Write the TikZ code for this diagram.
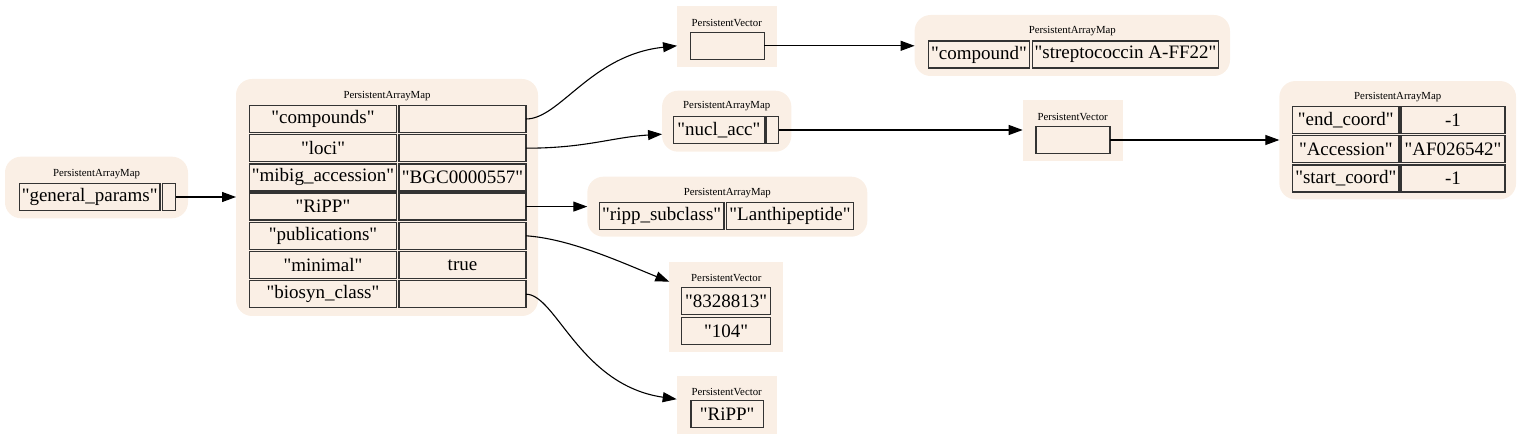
\documentclass[tikz,border=0pt]{standalone}
\usepackage{fontspec}
\setmainfont{Liberation Serif}[Ligatures=TeXOff]
\usepackage{tikz}
\usetikzlibrary{arrows.meta, positioning}
\definecolor{boxfill}{HTML}{FAEFE5}
\definecolor{cellline}{HTML}{333333}
\tikzset{
  map/.style={fill=boxfill, rounded corners=16pt, inner sep=0pt, outer sep=0pt},
  vec/.style={fill=boxfill, inner sep=0pt, outer sep=0pt},
  tag/.style={inner sep=0pt, font=\fontsize{10.8}{12}\selectfont},
  cell/.style={draw=cellline, line width=1.3pt, inner sep=0pt, outer sep=0pt,
    minimum height=27pt, font=\fontsize{19}{21}\selectfont},
  link/.style={-{Triangle[length=14pt,width=10pt]}, line width=1.1pt, black},
}

\begin{document}
\begin{tikzpicture}[x=1pt, y=-1pt]
  \useasboundingbox (0,0) rectangle (1523,443);

  \node[map, minimum width=183pt, minimum height=61.6pt] (root) at (96.5,187.5) {};
  \node[tag] (root-lbl) at (96.5,174.3) {PersistentArrayMap};
  \node[cell, minimum width=140.7pt] (root-k) at (89.7,197) {"general\_params"};
  \node[cell, minimum width=13pt] (root-v) at (169.2,197) {};

  \node[map, minimum width=302pt, minimum height=237pt] (main) at (387,197.5) {};
  \node[tag] (main-lbl) at (387,96) {PersistentArrayMap};
  \node[cell, minimum width=147.4pt] (main-k0) at (323,119) {"compounds"};
  \node[cell, minimum width=127pt] (main-v0) at (462.5,119) {};
  \node[cell, minimum width=147.4pt] (main-k1) at (323,148.2) {"loci"};
  \node[cell, minimum width=127pt] (main-v1) at (462.5,148.2) {};
  \node[cell, minimum width=147.4pt] (main-k2) at (323,177.4) {"mibig\_accession"};
  \node[cell, minimum width=127pt] (main-v2) at (462.5,177.4) {"BGC0000557"};
  \node[cell, minimum width=147.4pt] (main-k3) at (323,206.6) {"RiPP"};
  \node[cell, minimum width=127pt] (main-v3) at (462.5,206.6) {};
  \node[cell, minimum width=147.4pt] (main-k4) at (323,235.8) {"publications"};
  \node[cell, minimum width=127pt] (main-v4) at (462.5,235.8) {};
  \node[cell, minimum width=147.4pt] (main-k5) at (323,265) {"minimal"};
  \node[cell, minimum width=127pt] (main-v5) at (462.5,265) {true};
  \node[cell, minimum width=147.4pt] (main-k6) at (323,294.2) {"biosyn\_class"};
  \node[cell, minimum width=127pt] (main-v6) at (462.5,294.2) {};

  \node[vec, minimum width=99.5pt, minimum height=61pt] (vcomp) at (726.8,36.5) {};
  \node[tag] (vcomp-lbl) at (726.8,22.8) {PersistentVector};
  \node[cell, minimum width=74pt] (vcomp-0) at (727.3,45.8) {};

  \node[map, minimum width=315.4pt, minimum height=61pt] (mcomp) at (1072.3,45.5) {};
  \node[tag] (mcomp-lbl) at (1072.3,31.2) {PersistentArrayMap};
  \node[cell, minimum width=101pt] (mcomp-k) at (979,54.5) {"compound"};
  \node[cell, minimum width=186pt] (mcomp-v) at (1125.5,54.5) {"streptococcin A-FF22"};

  \node[map, minimum width=129.3pt, minimum height=61pt] (mnucl) at (726.7,121.2) {};
  \node[tag] (mnucl-lbl) at (726.7,106.5) {PersistentArrayMap};
  \node[cell, minimum width=91pt] (mnucl-k) at (718.9,130) {"nucl\_acc"};
  \node[cell, minimum width=12.7pt] (mnucl-v) at (772.3,130) {};

  \node[vec, minimum width=100pt, minimum height=61pt] (vnucl) at (1072.7,130.5) {};
  \node[tag] (vnucl-lbl) at (1072.7,117) {PersistentVector};
  \node[cell, minimum width=74pt] (vnucl-0) at (1073,140) {};

  \node[map, minimum width=236.7pt, minimum height=118.3pt] (mloc) at (1397.7,140.2) {};
  \node[tag] (mloc-lbl) at (1397.7,97.3) {PersistentArrayMap};
  \node[cell, minimum width=106.3pt] (mloc-k0) at (1345.8,120) {"end\_coord"};
  \node[cell, minimum width=104pt] (mloc-v0) at (1453,120) {-1};
  \node[cell, minimum width=106.3pt] (mloc-k1) at (1345.8,149.3) {"Accession"};
  \node[cell, minimum width=104pt] (mloc-v1) at (1453,149.3) {"AF026542"};
  \node[cell, minimum width=106.3pt] (mloc-k2) at (1345.8,178.6) {"start\_coord"};
  \node[cell, minimum width=104pt] (mloc-v2) at (1453,178.6) {-1};

  \node[map, minimum width=280pt, minimum height=60pt] (mripp) at (727.3,206.7) {};
  \node[tag] (mripp-lbl) at (727.3,193.3) {PersistentArrayMap};
  \node[cell, minimum width=124.7pt] (mripp-k) at (661.7,216.2) {"ripp\_subclass"};
  \node[cell, minimum width=126.7pt] (mripp-v) at (790,216.2) {"Lanthipeptide"};

  \node[vec, minimum width=114pt, minimum height=90pt] (vpub) at (726.3,306.7) {};
  \node[tag] (vpub-lbl) at (726.3,278) {PersistentVector};
  \node[cell, minimum width=89pt] (vpub-0) at (726.2,301.3) {"8328813"};
  \node[cell, minimum width=89pt] (vpub-1) at (726.2,331) {"104"};

  \node[vec, minimum width=100pt, minimum height=58pt] (vclass) at (726.7,405.2) {};
  \node[tag] (vclass-lbl) at (726.7,391.7) {PersistentVector};
  \node[cell, minimum width=72.3pt] (vclass-0) at (727.2,413.8) {"RiPP"};

  \draw[link] (root-v.east) -- (main.west |- root-v.center);
  \draw[link] (main-v0.east) .. controls +(34,0) and +(-86,9) .. (vcomp.west |- vcomp-0.center);
  \draw[link] (main-v1.east) .. controls +(60,0) and +(-50,3) .. ([yshift=-13pt]mnucl.west);
  \draw[link] (main-v3.east) -- (mripp.west |- main-v3.center);
  \draw[link] (main-v4.east) .. controls +(45,3) and +(-45,-18) .. ([yshift=25pt]vpub.west);
  \draw[link] (main-v6.east) .. controls +(30,0) and +(-97,-14) .. ([yshift=6pt]vclass.west);
  \draw[link] (vcomp-0.east) -- (mcomp.west |- vcomp-0.center);
  \draw[link] (mnucl-v.east) -- (vnucl.west |- mnucl-v.center);
  \draw[link] (vnucl-0.east) -- (mloc.west |- vnucl-0.center);
\end{tikzpicture}
\end{document}
